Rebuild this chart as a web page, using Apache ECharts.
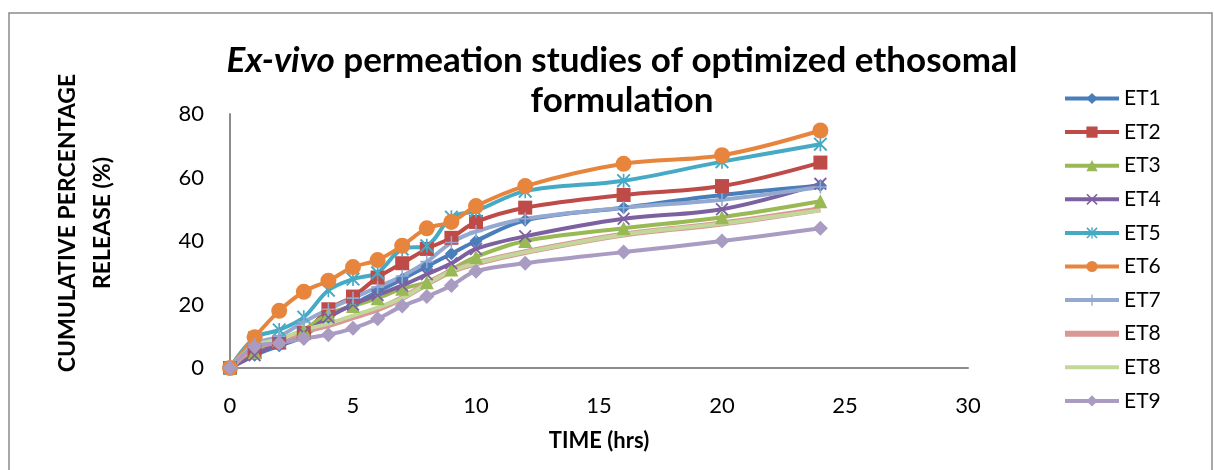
<!DOCTYPE html>
<html>
<head>
<meta charset="utf-8">
<script src="https://cdn.jsdelivr.net/npm/echarts@6/dist/echarts.min.js"></script>
<style>
  html, body { margin: 0; padding: 0; background: #fff; }
  #chart { width: 1214px; height: 470px; }
</style>
</head>
<body>
<div id="chart"></div>
<script>
// sampling times (hrs)
const times = [0, 1, 2, 3, 4, 5, 6, 7, 8, 9, 10, 12, 16, 20, 24]

// cumulative percentage release
const et1 = [0, 4, 7, 10, 16, 20, 24, 28, 32, 36, 40, 46.5, 50.5, 54.5, 57.5]
const et2 = [0, 5, 8, 11, 18.5, 22.5, 28.5, 33, 37.5, 41, 46, 50.5, 54.5, 57.3, 64.7]
const et3 = [0, 5, 8.5, 12, 17, 19.5, 22, 25, 27, 31, 35, 40, 44, 47.5, 52.5]
const et4 = [0, 4, 8, 11, 16, 20, 23, 26, 29.5, 33, 37.5, 41.5, 47, 50, 58]
const et5 = [0, 9.5, 12, 16, 24.5, 28, 30, 37.5, 38.5, 47.5, 49.5, 55.7, 59, 65, 70.5]
const et6 = [0, 9.7, 18, 24, 27.5, 31.8, 34, 38.5, 44, 46, 51, 57.3, 64.3, 67, 74.8]
const et7 = [0, 7.5, 10, 14.5, 18.5, 22, 25.5, 29, 33.5, 39.5, 43, 47, 50.5, 53, 57]
const et8a = [0, 6.5, 8.5, 11.5, 13.5, 16, 18.5, 22, 26.5, 30.5, 33, 36.5, 42, 45.5, 50]
const et8b = [0, 7, 9, 12, 14, 16.5, 19, 22, 26.5, 30.5, 33, 36.5, 42, 45.5, 49.7]
const et9 = [0, 6.7, 7.8, 9.3, 10.5, 12.5, 15.5, 19.5, 22.5, 26, 30.5, 33, 36.5, 40, 44]

const yTicks = { min: 0, max: 80, step: 20 }
const xTicks = { min: 0, max: 30, step: 5 }

const FONT = 'Lato'

// marker shapes Excel uses that echarts doesn't have built in
const xMark = 'path://M0,1 L1,0 L10,9 L9,10 Z M9,0 L10,1 L1,10 L0,9 Z'
const starMark = 'path://M0,1 L1,0 L10,9 L9,10 Z M9,0 L10,1 L1,10 L0,9 Z M4.4,0 H5.6 V10 H4.4 Z'
const plusMark = 'path://M4.4,0 H5.6 V4.4 H10 V5.6 H5.6 V10 H4.4 V5.6 H0 V4.4 H4.4 Z'

const pairs = arr => times.map((t, i) => [t, arr[i]])

const mk = (name, data, color, symbol, symbolSize, width = 4) => ({
  name,
  type: 'line',
  data: pairs(data),
  smooth: 0.35,
  symbol,
  symbolSize,
  showSymbol: symbolSize > 0,
  lineStyle: { color, width },
  itemStyle: { color },
})

// the source legend lists ET8 twice, so the second one carries a trailing space
const series = [
  mk('ET1', et1, '#4A7EBB', 'diamond', 13),
  mk('ET2', et2, '#BE4B48', 'rect', 14),
  mk('ET3', et3, '#98B954', 'triangle', 14),
  mk('ET4', et4, '#7D60A0', xMark, 13),
  mk('ET5', et5, '#46AAC5', starMark, 14),
  mk('ET6', et6, '#E8853D', 'circle', 16),
  mk('ET7', et7, '#93A9D0', plusMark, 13),
  mk('ET8', et8a, '#D99795', 'circle', 0, 6),
  mk('ET8 ', et8b, '#C4D79B', 'circle', 0, 4),
  mk('ET9', et9, '#A99BC2', 'diamond', 15),
]

const legendData = series.map(s => {
  const item = { name: s.name, lineStyle: { width: s.lineStyle.width > 4 ? 6 : 4 } }
  if (!s.showSymbol) item.itemStyle = { opacity: 0 }
  return item
})

const myChart = echarts.init(document.getElementById('chart'), null, { renderer: 'canvas' })

const option = {
  animation: false,
  backgroundColor: '#fff',
  title: {
    text: '{i|Ex-vivo} permeation studies of optimized ethosomal\nformulation',
    left: 617,
    top: 36,
    textAlign: 'center',
    textStyle: {
      fontFamily: FONT,
      fontSize: 35,
      fontWeight: 'bold',
      color: '#000',
      lineHeight: 40,
      rich: {
        i: { fontFamily: FONT, fontSize: 35, fontWeight: 'bold', fontStyle: 'italic', color: '#000' },
      },
    },
  },
  legend: {
    orient: 'vertical',
    left: 1057,
    top: 83,
    itemWidth: 54,
    itemHeight: 14,
    itemGap: 12.6,
    textStyle: { fontFamily: FONT, fontSize: 21, color: '#000', lineHeight: 20 },
    data: legendData,
  },
  grid: { left: 230, right: 246, top: 114, bottom: 102 },
  xAxis: {
    type: 'value',
    min: xTicks.min,
    max: xTicks.max,
    interval: xTicks.step,
    name: 'TIME (hrs)',
    nameLocation: 'middle',
    nameGap: 62,
    nameTextStyle: { fontFamily: FONT, fontSize: 22, fontWeight: 'bold', color: '#000' },
    axisLine: { lineStyle: { color: '#8C8C8C', width: 2 } },
    axisTick: { show: false },
    splitLine: { show: false },
    axisLabel: { fontFamily: FONT, fontSize: 22, color: '#000', margin: 27 },
  },
  yAxis: {
    type: 'value',
    min: yTicks.min,
    max: yTicks.max,
    interval: yTicks.step,
    axisLine: { show: true, lineStyle: { color: '#8C8C8C', width: 2 } },
    axisTick: { show: false },
    splitLine: { show: false },
    axisLabel: { fontFamily: FONT, fontSize: 22, color: '#000', margin: 26 },
  },
  graphic: [
    {
      type: 'rect',
      shape: { x: 9, y: 13, width: 1203, height: 470 },
      style: { fill: 'none', stroke: '#8C8C8C', lineWidth: 1.5 },
      silent: true,
    },
    {
      type: 'text',
      x: 85,
      y: 223,
      rotation: Math.PI / 2,
      style: {
        text: 'CUMULATIVE PERCENTAGE\nRELEASE (%)',
        fontFamily: FONT,
        fontSize: 23,
        fontWeight: 'bold',
        fill: '#000',
        align: 'center',
        verticalAlign: 'middle',
        lineHeight: 35,
      },
    },
  ],
  series,
}

myChart.setOption(option)
</script>
</body>
</html>
